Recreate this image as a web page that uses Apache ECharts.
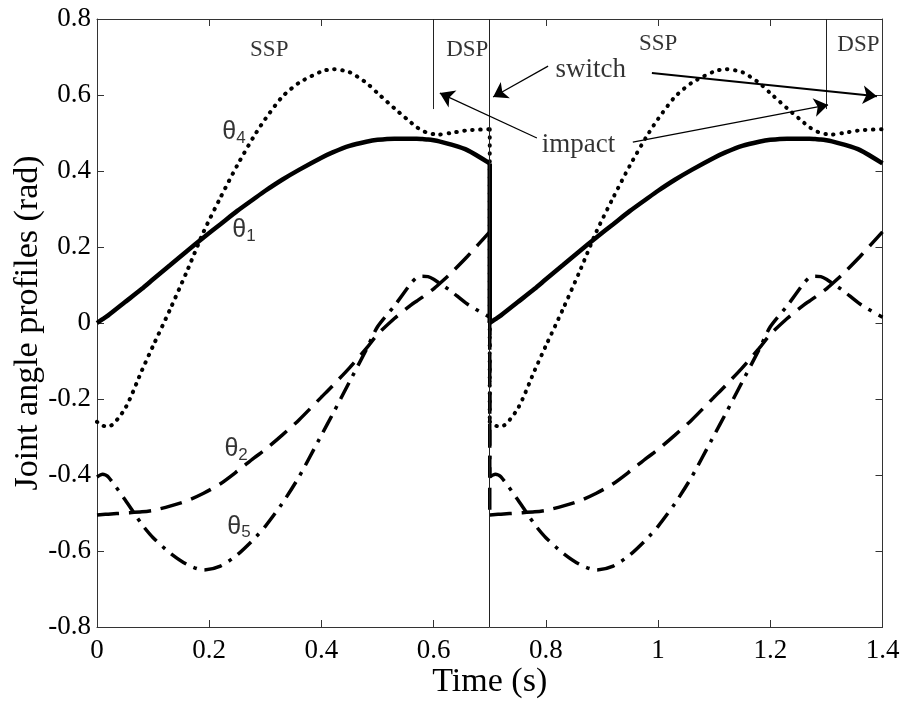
<!DOCTYPE html>
<html>
<head>
<meta charset="utf-8">
<script src="https://cdn.jsdelivr.net/npm/echarts@6/dist/echarts.min.js"></script>
<style>html,body{margin:0;padding:0;background:#fff}#c{width:907px;height:708px}</style>
</head>
<body>
<div id="c"></div>
<script>
// ---- data ----
const timeCycle1 = [0, 0.01, 0.02, 0.05, 0.08, 0.1, 0.13, 0.16, 0.19, 0.22, 0.25, 0.28, 0.3, 0.33, 0.36, 0.4, 0.42, 0.45, 0.48, 0.5, 0.53, 0.56, 0.57, 0.58, 0.59, 0.6, 0.61, 0.63, 0.66, 0.7];
const timeCycle2 = [0.7, 0.71, 0.72, 0.75, 0.78, 0.8, 0.83, 0.86, 0.89, 0.92, 0.95, 0.98, 1.0, 1.03, 1.06, 1.1, 1.12, 1.15, 1.18, 1.2, 1.23, 1.26, 1.27, 1.28, 1.29, 1.3, 1.31, 1.33, 1.36, 1.4];

const theta1Cycle1 = [0, 0.01, 0.02, 0.055, 0.09, 0.115, 0.152, 0.189, 0.225, 0.26, 0.295, 0.327, 0.348, 0.377, 0.403, 0.435, 0.449, 0.466, 0.477, 0.482, 0.485, 0.485, 0.485, 0.484, 0.483, 0.481, 0.478, 0.47, 0.455, 0.42];
const theta1Cycle2 = [0, 0.01, 0.02, 0.055, 0.09, 0.115, 0.152, 0.189, 0.225, 0.26, 0.295, 0.327, 0.348, 0.377, 0.403, 0.435, 0.449, 0.466, 0.477, 0.482, 0.485, 0.485, 0.485, 0.484, 0.483, 0.481, 0.478, 0.47, 0.455, 0.42];

const theta2Cycle1 = [-0.505, -0.504, -0.503, -0.5, -0.497, -0.493, -0.482, -0.468, -0.448, -0.423, -0.39, -0.355, -0.333, -0.295, -0.255, -0.195, -0.165, -0.118, -0.067, -0.03, 0.012, 0.048, 0.058, 0.068, 0.079, 0.09, 0.103, 0.13, 0.175, 0.24];
const theta2Cycle2 = [-0.505, -0.504, -0.503, -0.5, -0.497, -0.493, -0.482, -0.468, -0.448, -0.423, -0.39, -0.355, -0.333, -0.295, -0.255, -0.195, -0.165, -0.118, -0.067, -0.03, 0.012, 0.048, 0.058, 0.068, 0.079, 0.09, 0.103, 0.13, 0.175, 0.24];

const theta4Cycle1 = [-0.26, -0.27, -0.273, -0.225, -0.125, -0.06, 0.035, 0.135, 0.24, 0.33, 0.415, 0.492, 0.537, 0.595, 0.632, 0.662, 0.668, 0.66, 0.632, 0.605, 0.565, 0.527, 0.515, 0.506, 0.5, 0.497, 0.496, 0.5, 0.507, 0.51];
const theta4Cycle2 = [-0.26, -0.27, -0.273, -0.225, -0.125, -0.06, 0.035, 0.135, 0.24, 0.33, 0.415, 0.492, 0.537, 0.595, 0.632, 0.662, 0.668, 0.66, 0.632, 0.605, 0.565, 0.527, 0.515, 0.506, 0.5, 0.497, 0.496, 0.5, 0.507, 0.51];

const theta5Cycle1 = [-0.405, -0.398, -0.405, -0.465, -0.53, -0.565, -0.605, -0.635, -0.65, -0.64, -0.61, -0.568, -0.535, -0.475, -0.405, -0.295, -0.24, -0.155, -0.07, -0.01, 0.045, 0.105, 0.12, 0.123, 0.122, 0.115, 0.105, 0.085, 0.05, 0.015];
const theta5Cycle2 = [-0.405, -0.398, -0.405, -0.465, -0.53, -0.565, -0.605, -0.635, -0.65, -0.64, -0.61, -0.568, -0.535, -0.475, -0.405, -0.295, -0.24, -0.155, -0.07, -0.01, 0.045, 0.105, 0.12, 0.123, 0.122, 0.115, 0.105, 0.085, 0.05, 0.015];

const xTicks = [0, 0.2, 0.4, 0.6, 0.8, 1, 1.2, 1.4];
const yTicks = [-0.8, -0.6, -0.4, -0.2, 0, 0.2, 0.4, 0.6, 0.8];

const phaseLines = [0.6, 1.3];     // SSP -> DSP boundaries
const impactSwitch = 0.7;          // full-height boundary
const phaseLineBottom = 0.563;

// ---- build ----
const pairs = (ts, vs) => ts.map((t, i) => [t, vs[i]]);
const FONT = 'Liberation Serif';

const styles = {
  th1: {color: '#000', width: 4.5, type: 'solid'},
  th2: {color: '#000', width: 3.5, type: [22, 10]},
  th4: {color: '#000', width: 4, type: [0.5, 7.5], cap: 'round'},
  th5: {color: '#000', width: 3.5, type: [18, 8, 3.5, 8]}
};

const curves = [
  ['th1', theta1Cycle1, theta1Cycle2],
  ['th2', theta2Cycle1, theta2Cycle2],
  ['th4', theta4Cycle1, theta4Cycle2],
  ['th5', theta5Cycle1, theta5Cycle2]
];

const series = [];
curves.forEach(([k, c1, c2]) => {
  const base = {type: 'line', showSymbol: false, symbol: 'none', silent: true, lineStyle: styles[k], z: 3};
  series.push(Object.assign({}, base, {smooth: 0.25, data: pairs(timeCycle1, c1)}));
  series.push(Object.assign({}, base, {smooth: 0.25, data: pairs(timeCycle2, c2)}));
  series.push(Object.assign({}, base, {smooth: false, data: [[timeCycle1[timeCycle1.length - 1], c1[c1.length - 1]], [timeCycle2[0], c2[0]]]}));
});

const thetaLabel = (sub) => '{a|θ}{b|' + sub + '}';
const annotations = [
  {pos: [0.307, 0.718], text: 'SSP', size: 23},
  {pos: [0.66, 0.718], text: 'DSP', size: 23},
  {pos: [1.0, 0.734], text: 'SSP', size: 23},
  {pos: [1.357, 0.732], text: 'DSP', size: 23},
  {pos: [0.88, 0.666], text: 'switch', size: 27},
  {pos: [0.858, 0.468], text: 'impact', size: 27},
  {pos: [0.244, 0.503], text: thetaLabel('4'), rich: true},
  {pos: [0.262, 0.245], text: thetaLabel('1'), rich: true},
  {pos: [0.248, -0.333], text: thetaLabel('2'), rich: true},
  {pos: [0.253, -0.536], text: thetaLabel('5'), rich: true}
];

const richStyle = {
  a: {fontFamily: 'Liberation Sans', fontSize: 25, color: '#000', lineHeight: 28},
  b: {fontFamily: 'Liberation Sans', fontSize: 17, color: '#000', padding: [12, 0, 0, 0], lineHeight: 28}
};

series.push({
  type: 'scatter', symbolSize: 0, silent: true, z: 5,
  data: annotations.map(a => ({
    value: a.pos,
    label: a.rich
      ? {show: true, position: 'inside', formatter: a.text, rich: richStyle}
      : {show: true, position: 'inside', formatter: a.text, fontFamily: FONT, fontSize: a.size, color: '#000'}
  })),
  markLine: {
    silent: true, symbol: ['none', 'none'], animation: false,
    label: {show: false},
    lineStyle: {color: '#222', width: 1, type: 'solid'},
    emphasis: {disabled: true},
    data: phaseLines.map(x => [{coord: [x, 0.8]}, {coord: [x, phaseLineBottom]}])
      .concat([[{coord: [impactSwitch, 0.8]}, {coord: [impactSwitch, -0.8]}]])
  }
});

const arrows = [
  {from: [0.804, 0.676], to: [0.706, 0.595], w: 1.2},
  {from: [0.989, 0.658], to: [1.390, 0.597], w: 2},
  {from: [0.784, 0.487], to: [0.611, 0.605], w: 1.2},
  {from: [0.955, 0.476], to: [1.303, 0.574], w: 1.2}
];
series.push({
  type: 'line', data: [], silent: true,
  markLine: {
    silent: true, animation: false, symbol: ['none', 'arrow'], symbolSize: 14,
    label: {show: false}, emphasis: {disabled: true},
    data: arrows.map(a => [
      {coord: a.from, lineStyle: {color: '#000', width: a.w, type: 'solid'}},
      {coord: a.to}
    ])
  }
});

const fmt = v => String(Math.round(v * 10) / 10);
const axisCommon = {
  type: 'value',
  axisLine: {show: true, onZero: false, lineStyle: {color: '#333', width: 1}},
  axisTick: {show: true, inside: true, length: 7, lineStyle: {color: '#333'}},
  splitLine: {show: false}
};

const option = {
  animation: false,
  backgroundColor: '#fff',
  grid: {left: 97, right: 24.5, top: 19, bottom: 81, containLabel: false, outerBoundsMode: 'none'},
  xAxis: [
    Object.assign({}, axisCommon, {
      min: xTicks[0], max: xTicks[xTicks.length - 1], interval: 0.2, position: 'bottom',
      name: 'Time (s)', nameLocation: 'middle', nameGap: 38, nameMoveOverlap: false,
      nameTextStyle: {fontFamily: FONT, fontSize: 34, color: '#000'},
      axisLabel: {formatter: fmt, fontFamily: FONT, fontSize: 27, color: '#000', margin: 10}
    }),
    Object.assign({}, axisCommon, {
      min: xTicks[0], max: xTicks[xTicks.length - 1], interval: 0.2, position: 'top',
      axisLabel: {show: false}
    })
  ],
  yAxis: [
    Object.assign({}, axisCommon, {
      min: yTicks[0], max: yTicks[yTicks.length - 1], interval: 0.2, position: 'left',
      name: 'Joint angle profiles (rad)', nameLocation: 'middle', nameGap: 52, nameRotate: 90,
      nameMoveOverlap: false,
      nameTextStyle: {fontFamily: FONT, fontSize: 34, color: '#000'},
      axisLabel: {formatter: fmt, fontFamily: FONT, fontSize: 27, color: '#000', margin: 6}
    }),
    Object.assign({}, axisCommon, {
      min: yTicks[0], max: yTicks[yTicks.length - 1], interval: 0.2, position: 'right',
      axisLabel: {show: false}
    })
  ],
  series: series
};

const chart = echarts.init(document.getElementById('c'), null, {renderer: 'canvas'});
chart.setOption(option);
</script>
</body>
</html>
